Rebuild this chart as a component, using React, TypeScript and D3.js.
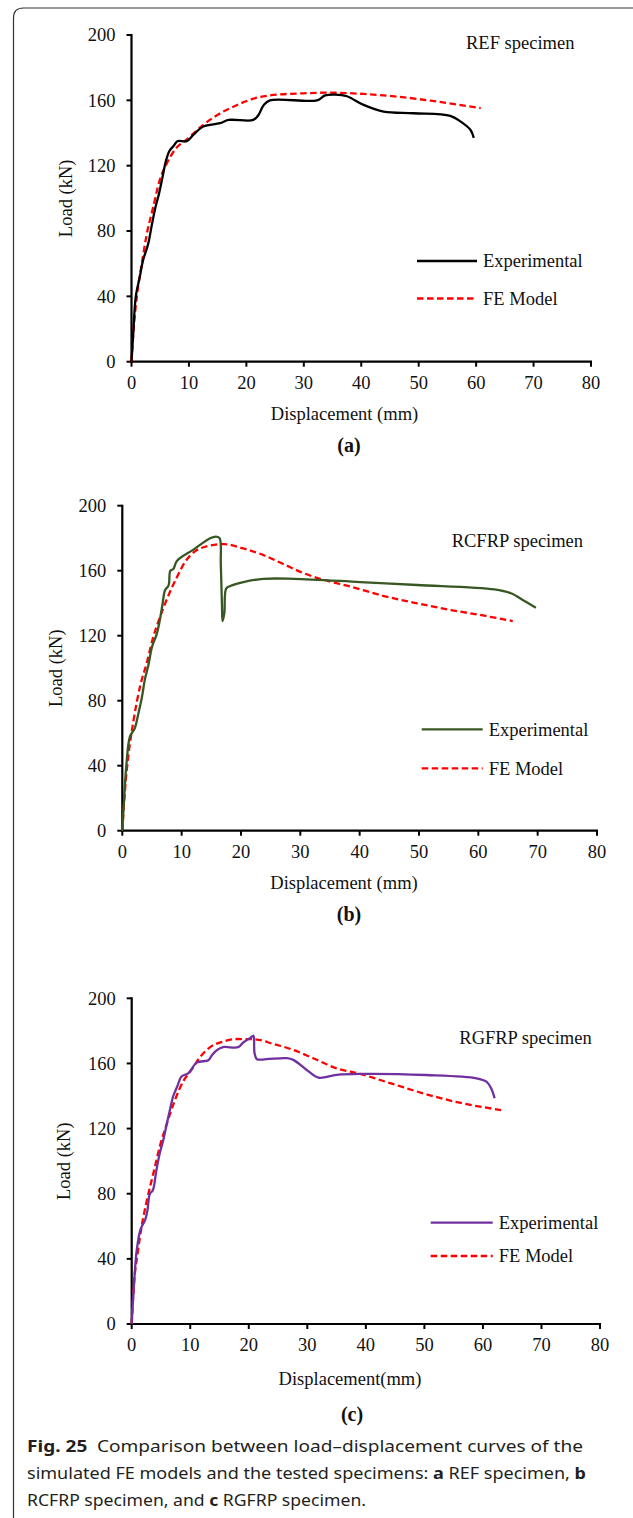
import * as d3 from 'd3';

// Axis ticks shared by the three panels
const X_TICKS = [0, 10, 20, 30, 40, 50, 60, 70, 80];
const Y_TICKS = [0, 40, 80, 120, 160, 200];

// (a) REF specimen
const refExperimental: [number, number][] = [
  [0, 0], [0.3, 17], [0.75, 40], [1.45, 52], [2.0, 62], [2.9, 72], [3.5, 83], [4.2, 95],
  [4.8, 103], [5.4, 113], [6.0, 123], [6.6, 129], [7.3, 132], [8.0, 135], [9.6, 135],
  [10.8, 139], [12.5, 144], [15.4, 146], [16.9, 148], [21.2, 148], [22.1, 151], [23.0, 157],
  [24.1, 160], [32.3, 160], [33.7, 163], [35.5, 163.5], [37.5, 162.5], [40.4, 157.2],
  [43.9, 153.1], [49.1, 152.1], [55.5, 150.5], [57.3, 147], [59.0, 142], [59.6, 137],
];
const refFE: [number, number][] = [
  [0, 0], [0.4, 21], [1.0, 42], [1.7, 58], [2.6, 77], [3.8, 95], [4.9, 111], [6.1, 121],
  [7.6, 130], [9.6, 136], [12.5, 145], [15.4, 152], [18.3, 157], [21.2, 161], [24.1, 163],
  [29.9, 164.3], [34.6, 164.7], [40.4, 163.9], [46.2, 162.3], [52.1, 159.8], [60.8, 155.2],
];

// (b) RCFRP specimen
const rcfrpExperimental: [number, number][] = [
  [0, 0], [0.3, 19], [0.7, 41], [1.3, 58], [2.1, 63], [2.7, 72], [3.3, 82], [3.8, 93],
  [4.4, 102], [5.0, 113], [5.8, 121], [6.4, 131], [6.8, 140], [7.2, 148], [7.8, 151],
  [8.1, 160], [8.6, 161], [9.2, 166], [12.0, 173], [14.8, 180], [15.8, 181], [16.4, 180],
  [16.6, 164], [16.8, 138], [16.9, 129], [17.2, 134], [17.5, 149], [18.2, 150.6],
  [20.4, 153], [23.8, 155], [28.9, 155], [40.1, 153], [49.7, 151.2], [62.7, 148.5],
  [65.5, 146.1], [67.7, 141.5], [69.7, 137.2],
];
const rcfrpFE: [number, number][] = [
  [0, 0], [0.45, 25], [1.0, 45.5], [1.9, 68], [3.0, 89], [4.1, 103], [5.2, 119], [6.4, 132],
  [7.8, 145], [9.2, 156], [10.6, 165.5], [12.3, 172], [14.2, 175], [17.1, 176.4],
  [20.4, 173.7], [23.8, 169.6], [27.2, 164], [30.6, 158.4], [34.0, 154.3], [38.5, 150.2],
  [44.1, 144.4], [49.7, 139.9], [55.4, 135.8], [61.0, 132.3], [65.8, 129],
];

// (c) RGFRP specimen
const rgfrpExperimental: [number, number][] = [
  [0, 0], [0.3, 19], [0.85, 45], [1.5, 58], [2.3, 64], [2.7, 70], [3.1, 80], [3.6, 82],
  [4.2, 94], [4.8, 105], [5.4, 113], [6.0, 123], [6.5, 131], [7.1, 140], [7.8, 146],
  [8.5, 152], [9.7, 154], [11.1, 160.5], [13.1, 162], [13.7, 165], [14.5, 168], [15.6, 170],
  [18.2, 170], [19.1, 173], [20.2, 175.5], [20.8, 177], [20.9, 174], [21.0, 166],
  [21.4, 162.6], [23.0, 162.6], [26.5, 163.2], [27.6, 162.2], [29.9, 156], [31.9, 151.3],
  [35.0, 153], [39.0, 153.6], [50.3, 152.9], [58.9, 150.9], [60.6, 148.8], [61.4, 144.8],
  [62.0, 138.6],
];
const rgfrpFE: [number, number][] = [
  [0, 0], [0.4, 25], [1.0, 43], [1.7, 60], [2.6, 76], [3.7, 92.5], [4.8, 109], [6.0, 123],
  [7.4, 137.6], [8.8, 149], [10.2, 156], [11.7, 164], [13.4, 170], [15.6, 173.4],
  [17.9, 175], [20.8, 174.9], [24.2, 172], [27.6, 168.3], [31.0, 163.2], [35.0, 157],
  [39.0, 153.6], [44.6, 147.4], [50.3, 141.1], [56.0, 135.9], [63.1, 131.4],
];

const SERIF = '"Liberation Serif", "Times New Roman", serif';
const SANS = '"Noto Sans", "Open Sans", sans-serif';
const FS = 18.5;

type Layout = {
  x0: number; x1: number; y0: number; y1: number;
  titleX: number; titleY: number;
  legX: number; legLen: number; legY1: number; legY2: number;
  xLabelX: number; xLabelY: number; yLabelX: number;
  letterX: number; letterY: number;
};

function Panel({ exp, fe, color, title, xLabel, letter, L }: {
  exp: [number, number][]; fe: [number, number][]; color: string;
  title: string; xLabel: string; letter: string; L: Layout;
}) {
  const x = d3.scaleLinear().domain([0, 80]).range([L.x0, L.x1]);
  const y = d3.scaleLinear().domain([0, 200]).range([L.y0, L.y1]);

  const expLine = d3.line<[number, number]>()
    .x((d) => x(d[0]))
    .y((d) => y(d[1]))
    .curve(d3.curveCatmullRom.alpha(0.5));
  const feLine = d3.line<[number, number]>()
    .x((d) => x(d[0]))
    .y((d) => y(d[1]))
    .curve(d3.curveMonotoneX);

  return (
    <g fontFamily={SERIF} fontSize={FS} fill="#111">
      {/* axes */}
      <line x1={x(0)} x2={x(0)} y1={y(0) + 1} y2={y(200) - 1} stroke="#000" strokeWidth={2.2} />
      <line x1={x(0) - 1} x2={x(80) + 1} y1={y(0)} y2={y(0)} stroke="#000" strokeWidth={2.2} />
      {Y_TICKS.map((t) => (
        <g key={'y' + t}>
          <line x1={x(0) - 5} x2={x(0)} y1={y(t)} y2={y(t)} stroke="#000" strokeWidth={2} />
          <text x={x(0) - 16} y={y(t) + 6.3} textAnchor="end">{t}</text>
        </g>
      ))}
      {X_TICKS.map((t) => (
        <g key={'x' + t}>
          <line x1={x(t)} x2={x(t)} y1={y(0)} y2={y(0) + 5} stroke="#000" strokeWidth={2} />
          <text x={x(t)} y={y(0) + 27} textAnchor="middle">{t}</text>
        </g>
      ))}

      {/* curves */}
      <path d={feLine(fe) ?? ''} fill="none" stroke="#ff0000" strokeWidth={2.3} strokeDasharray="6.5,3.5" />
      <path d={expLine(exp) ?? ''} fill="none" stroke={color} strokeWidth={2.3} strokeLinejoin="round" />

      {/* labels */}
      <text x={L.titleX} y={L.titleY}>{title}</text>
      <line x1={L.legX} x2={L.legX + L.legLen} y1={L.legY1} y2={L.legY1} stroke={color} strokeWidth={2.3} />
      <text x={L.legX + L.legLen + 6} y={L.legY1 + 6.2}>Experimental</text>
      <line x1={L.legX} x2={L.legX + L.legLen} y1={L.legY2} y2={L.legY2} stroke="#ff0000" strokeWidth={2.3} strokeDasharray="6.5,3.5" />
      <text x={L.legX + L.legLen + 6} y={L.legY2 + 6.2}>FE Model</text>

      <text x={L.xLabelX} y={L.xLabelY} textAnchor="middle">{xLabel}</text>
      <text
        transform={`translate(${L.yLabelX},${(L.y0 + L.y1) / 2}) rotate(-90)`}
        textAnchor="middle"
      >Load (kN)</text>
      <text x={L.letterX} y={L.letterY} textAnchor="middle" fontWeight="bold" fontSize={20}>{letter}</text>
    </g>
  );
}

const layoutA: Layout = {
  x0: 131.5, x1: 591, y0: 361.7, y1: 35,
  titleX: 466, titleY: 49,
  legX: 417, legLen: 60, legY1: 261, legY2: 298.5,
  xLabelX: 344.5, xLabelY: 420, yLabelX: 72,
  letterX: 349, letterY: 452,
};
const layoutB: Layout = {
  x0: 122.3, x1: 597, y0: 830.7, y1: 505.7,
  titleX: 451.7, titleY: 547,
  legX: 421.7, legLen: 61, legY1: 729.3, legY2: 768.3,
  xLabelX: 344, xLabelY: 889, yLabelX: 62,
  letterX: 349, letterY: 921,
};
const layoutC: Layout = {
  x0: 131.7, x1: 600, y0: 1324, y1: 998.3,
  titleX: 459.3, titleY: 1044,
  legX: 430.7, legLen: 62, legY1: 1222.7, legY2: 1256,
  xLabelX: 350, xLabelY: 1385, yLabelX: 70,
  letterX: 352, letterY: 1421,
};

export default function App() {
  return (
    <svg
      width={633}
      height={1518}
      style={{ position: 'absolute', left: 0, top: 0, background: '#fff' }}
    >
      <rect x={0} y={0} width={633} height={1518} fill="#fff" />
      {/* figure frame: open on the right and bottom */}
      <path d="M13.5,1518 V18 Q13.5,8 23.5,8 H633" fill="none" stroke="#333" strokeWidth={1.2} />

      <Panel exp={refExperimental} fe={refFE} color="#000000" title="REF specimen"
        xLabel="Displacement (mm)" letter="(a)" L={layoutA} />
      <Panel exp={rcfrpExperimental} fe={rcfrpFE} color="#385723" title="RCFRP specimen"
        xLabel="Displacement (mm)" letter="(b)" L={layoutB} />
      <Panel exp={rgfrpExperimental} fe={rgfrpFE} color="#7030a0" title="RGFRP specimen"
        xLabel="Displacement(mm)" letter="(c)" L={layoutC} />

      <g fontFamily={SANS} fontSize={16.5} fill="#231f20">
        <text x={27} y={1452} textLength={556} lengthAdjust="spacingAndGlyphs">
          <tspan fontWeight="bold">Fig. 25</tspan>
          <tspan>{'\u2002Comparison between load\u2013displacement curves of the'}</tspan>
        </text>
        <text x={27} y={1479} textLength={559} lengthAdjust="spacingAndGlyphs">
          <tspan>simulated FE models and the tested specimens: </tspan>
          <tspan fontWeight="bold">a</tspan>
          <tspan> REF specimen, </tspan>
          <tspan fontWeight="bold">b</tspan>
        </text>
        <text x={27} y={1506} textLength={339} lengthAdjust="spacingAndGlyphs">
          <tspan>RCFRP specimen, and </tspan>
          <tspan fontWeight="bold">c</tspan>
          <tspan> RGFRP specimen.</tspan>
        </text>
      </g>
    </svg>
  );
}
